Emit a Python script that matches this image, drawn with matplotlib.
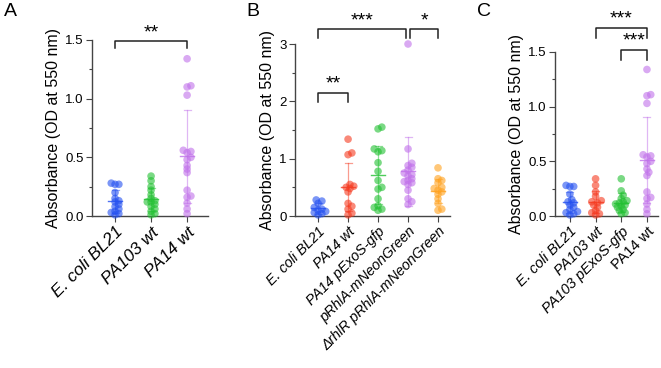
import numpy as np
import matplotlib
matplotlib.use("Agg")
import matplotlib.pyplot as plt

plt.rcParams['font.family'] = ['Liberation Sans', 'DejaVu Sans']

# colours per strain
BLUE = '#2450F0'
RED = '#F53A20'
GREEN = '#22C032'
PURPLE = '#C070EA'
ORANGE = '#FFA21F'

# ---- panel A ----
a_labels = ['E. coli BL21', 'PA103 wt', 'PA14 wt']
a_bl21 = [0.28, 0.27, 0.27, 0.20, 0.15, 0.13, 0.12, 0.10, 0.08, 0.06, 0.04, 0.03, 0.02, 0.01]
a_pa103 = [0.34, 0.30, 0.25, 0.22, 0.18, 0.15, 0.13, 0.12, 0.12, 0.10, 0.08, 0.06, 0.04, 0.02, 0.01]
a_pa14 = [1.34, 1.11, 1.10, 1.03, 0.56, 0.55, 0.54, 0.50, 0.48, 0.43, 0.40, 0.37,
          0.22, 0.17, 0.16, 0.11, 0.06, 0.02]

# ---- panel B ----
b_labels = ['E. coli BL21', 'PA14 wt', 'PA14 pExoS-gfp', 'pRhlA-mNeonGreen',
            '\u0394rhlR pRhlA-mNeonGreen']
b_bl21 = [0.28, 0.26, 0.22, 0.15, 0.12, 0.10, 0.08, 0.06, 0.04, 0.02]
b_pa14 = [1.34, 1.10, 1.07, 0.55, 0.52, 0.50, 0.48, 0.42, 0.22, 0.17, 0.12, 0.05, 0.02]
b_exos = [1.55, 1.52, 1.17, 1.14, 1.12, 0.93, 0.78, 0.62, 0.50, 0.47, 0.30, 0.18,
          0.15, 0.12, 0.10]
b_prhla = [3.00, 1.17, 0.92, 0.88, 0.85, 0.80, 0.75, 0.72, 0.70, 0.65, 0.62, 0.60,
           0.58, 0.55, 0.45, 0.30, 0.25, 0.20]
b_drhlr = [0.84, 0.65, 0.62, 0.58, 0.50, 0.48, 0.45, 0.42, 0.38, 0.30, 0.22, 0.12, 0.10]

# ---- panel C ----
c_labels = ['E. coli BL21', 'PA103 wt', 'PA103 pExoS-gfp', 'PA14 wt']
c_bl21 = a_bl21
c_pa103 = [0.34, 0.28, 0.22, 0.18, 0.14, 0.13, 0.12, 0.10, 0.08, 0.05, 0.03, 0.02, 0.01]
c_exos = [0.34, 0.23, 0.19, 0.16, 0.14, 0.13, 0.12, 0.11, 0.10, 0.09, 0.08, 0.06,
          0.05, 0.03, 0.02]
c_pa14 = a_pa14


def swarm(vals, px_per_unit, px_per_x, d=3.5):
    # tight beeswarm: points may overlap a bit, shifted sideways on collision
    order = np.argsort(vals)
    placed = []
    offs = np.zeros(len(vals))
    for i in order:
        y = vals[i] * px_per_unit
        cand = 0.0
        for k in range(0, 9):
            cand = 0 if k == 0 else ((k + 1) // 2) * 1.9 * (1 if k % 2 else -1)
            ok = all((cand - px) ** 2 + (y - py) ** 2 >= d * d for px, py in placed)
            if ok:
                break
        placed.append((cand, y))
        offs[i] = cand / px_per_x
    return offs


def panel(ax, groups, colors, ymax, yticks, minor, px_unit, px_x, xlim, xfs):
    for i, (vals, col) in enumerate(zip(groups, colors)):
        v = np.array(vals)
        xs = i + swarm(v, px_unit, px_x)
        ax.scatter(xs, v, s=30, color=col, alpha=0.6, edgecolors='none',
                   zorder=3, clip_on=False)
        m = v.mean()
        sd = v.std(ddof=1)
        w = 7.0 / px_x
        c = 3.5 / px_x
        ax.plot([i - w, i + w], [m, m], color=col, lw=1.0, alpha=0.8, zorder=4)
        ax.plot([i, i], [max(m - sd, 0), m + sd], color=col, lw=0.9, alpha=0.5, zorder=2)
        ax.plot([i - c, i + c], [m + sd, m + sd], color=col, lw=0.9, alpha=0.5, zorder=2)
        if m - sd > 0:
            ax.plot([i - c, i + c], [m - sd, m - sd], color=col, lw=0.9, alpha=0.5, zorder=2)
    ax.set_ylim(0, ymax)
    ax.set_xlim(*xlim)
    ax.set_yticks(yticks)
    ax.set_yticks(minor, minor=True)
    ax.set_xticks(range(len(groups)))
    for s in ['top', 'right']:
        ax.spines[s].set_visible(False)
    for s in ['left', 'bottom']:
        ax.spines[s].set_color('#444444')
        ax.spines[s].set_linewidth(1.0)
    ax.tick_params(axis='y', which='major', length=4, width=0.8, color='#444444',
                   labelsize=9.5, pad=2)
    ax.tick_params(axis='y', which='minor', length=2.5, width=0.8, color='#444444')
    ax.tick_params(axis='x', length=4, width=0.8, color='#444444', labelsize=xfs, pad=2)
    ax.set_ylabel('Absorbance (OD at 550 nm)', fontsize=11.5, labelpad=3)


def bracket(ax, x1, x2, ytop, drop, text):
    ax.plot([x1, x1, x2, x2], [ytop - drop, ytop, ytop, ytop - drop], color='#222222',
            lw=1.1, clip_on=False)
    ax.text((x1 + x2) / 2, ytop, text, ha='center', va='bottom', fontsize=14,
            clip_on=False)


def set_labels(ax, labels, italic):
    ax.set_xticklabels(labels, rotation=45, ha='right', rotation_mode='anchor')
    for t, it in zip(ax.get_xticklabels(), italic):
        t.set_fontstyle('italic' if it else 'normal')


fig = plt.figure(figsize=(6.61, 3.68), dpi=100)
W, H = 661.0, 368.0

# A
axA = fig.add_axes([92 / W, 1 - 216 / H, 116 / W, 176 / H])
panel(axA, [a_bl21, a_pa103, a_pa14], [BLUE, GREEN, PURPLE], 1.5,
      [0, 0.5, 1.0, 1.5], [0.25, 0.75, 1.25], 176 / 1.5, 36.0, (-0.64, 2.58), 12.5)
axA.set_yticklabels(['0.0', '0.5', '1.0', '1.5'])
set_labels(axA, a_labels, [True, True, True])
bracket(axA, 0, 2, 1.49, 0.06, '**')

# B
axB = fig.add_axes([295 / W, 1 - 216 / H, 155 / W, 172 / H])
panel(axB, [b_bl21, b_pa14, b_exos, b_prhla, b_drhlr], [BLUE, RED, GREEN, PURPLE, ORANGE],
      3.0, [0, 1, 2, 3], [0.5, 1.5, 2.5], 172 / 3.0, 30.0, (-0.77, 4.4), 10.3)
set_labels(axB, b_labels, [True] * 5)
bracket(axB, 0, 1, 2.15, 0.16, '**')
bracket(axB, 0, 2.92, 3.26, 0.16, '***')
bracket(axB, 3.08, 4, 3.26, 0.16, '*')

# C
axC = fig.add_axes([555 / W, 1 - 216 / H, 103 / W, 164 / H])
panel(axC, [c_bl21, c_pa103, c_exos, c_pa14], [BLUE, RED, GREEN, PURPLE], 1.5,
      [0, 0.5, 1.0, 1.5], [0.25, 0.75, 1.25], 164 / 1.5, 25.7, (-0.58, 3.43), 10.5)
axC.set_yticklabels(['0.0', '0.5', '1.0', '1.5'])
set_labels(axC, c_labels, [True, True, True, False])
bracket(axC, 1, 3, 1.72, 0.09, '***')
bracket(axC, 2, 3, 1.52, 0.09, '***')

for x, lab in [(10, 'A'), (253, 'B'), (484, 'C')]:
    fig.text(x / W, 1 - 12 / H, lab, ha='center', va='center', fontsize=14)

fig.savefig('out.png', dpi=100)
